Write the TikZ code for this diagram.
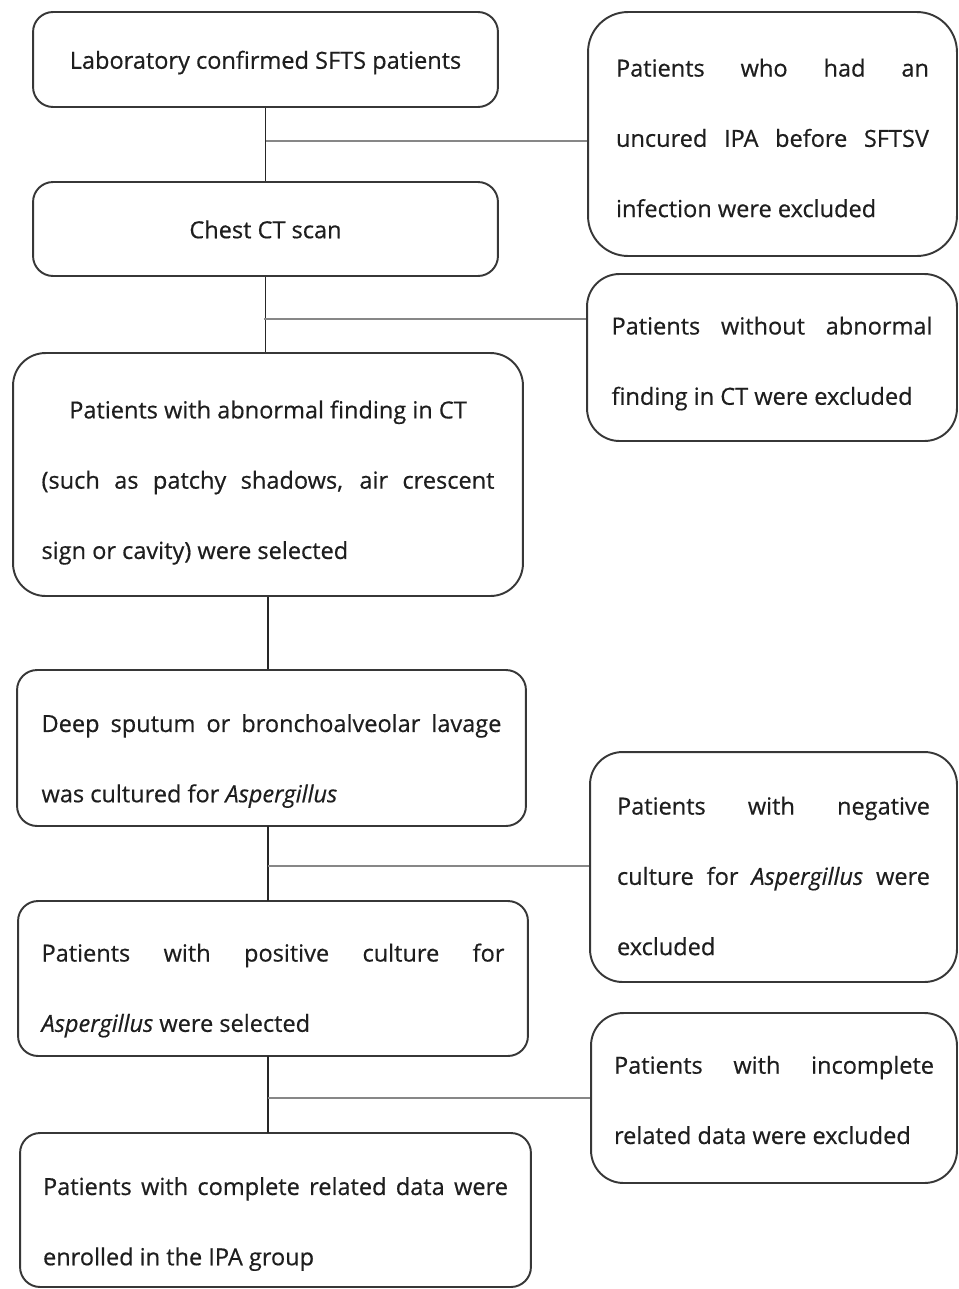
\documentclass[tikz,border=0pt]{standalone}
\usepackage{fontspec}
\setmainfont{Open Sans}[RawFeature={embolden=0.5}]
\usepackage{tikz}
\usetikzlibrary{positioning,calc}
\definecolor{BoxLine}{RGB}{55,55,55}
\definecolor{TextGray}{RGB}{30,30,30}
\definecolor{BranchGray}{RGB}{135,135,135}
\tikzset{
  flowbox/.style={draw=BoxLine, line width=1.1pt, text=TextGray, align=justify, inner sep=0pt,
    font=\fontsize{13.4}{40}\selectfont},
  stagebox/.style={flowbox, rounded corners=0.4cm},
  exclbox/.style={flowbox, rounded corners=0.65cm},
  textdrop/.style={execute at end node={\par\vspace{-#1}}},
  oneline/.style={text height=0.37cm, text depth=0pt},
  trunk/.style={line width=1.1pt, black!85},
  branch/.style={line width=0.9pt, BranchGray}
}

\begin{document}
\begin{tikzpicture}[x=0.02cm, y=-0.02cm]
  \useasboundingbox (0,0) rectangle (958,1289);
  \node[stagebox, oneline, minimum width=9.3cm, minimum height=1.9cm] (lab) at (265.5,59.5) {Laboratory confirmed SFTS patients};
  \node[stagebox, oneline, minimum width=9.3cm, minimum height=1.88cm] (ct) at (265.5,229) {Chest CT scan};
  \node[exclbox, minimum width=10.2cm, minimum height=4.86cm, text width=9.06cm, textdrop=0.32cm] (abn) at (268,474.5)
    {{\centering Patients with abnormal finding in CT\par}(such as patchy shadows, air crescent\linebreak sign or cavity) were selected};
  \node[stagebox, minimum width=10.18cm, minimum height=3.12cm, text width=9.2cm, textdrop=0.52cm] (cult) at (271.5,748)
    {Deep sputum or bronchoalveolar lavage\linebreak was cultured for \textit{Aspergillus}};
  \node[stagebox, minimum width=10.2cm, minimum height=3.1cm, text width=9.26cm, textdrop=0.48cm] (pos) at (273,978.5)
    {Patients with positive culture for\linebreak \textit{Aspergillus} were selected};
  \node[stagebox, minimum width=10.22cm, minimum height=3.08cm, text width=9.3cm, textdrop=0.56cm] (enr) at (275.5,1210)
    {Patients with complete related data were\linebreak enrolled in the IPA group};

  \node[exclbox, rounded corners=0.8cm, minimum width=7.38cm, minimum height=4.88cm, text width=6.26cm, textdrop=0.16cm] (exA) at (772.5,134)
    {Patients who had an\linebreak uncured IPA before SFTSV\linebreak infection were excluded};
  \node[exclbox, minimum width=7.4cm, minimum height=3.34cm, text width=6.42cm, textdrop=0.24cm] (exB) at (772,357.5)
    {Patients without abnormal\linebreak finding in CT were excluded};
  \node[exclbox, minimum width=7.34cm, minimum height=4.6cm, text width=6.26cm, textdrop=0.36cm] (exC) at (773.5,867)
    {Patients with negative\linebreak culture for \textit{Aspergillus} were\linebreak excluded};
  \node[exclbox, minimum width=7.32cm, minimum height=3.4cm, text width=6.4cm, textdrop=0.08cm] (exD) at (774,1098)
    {Patients with incomplete\linebreak related data were excluded};

  \draw[trunk] (lab.south) -- (lab.south |- ct.north);
  \draw[trunk] (ct.south) -- (ct.south |- abn.north);
  \draw[trunk] (abn.south) -- (abn.south |- cult.north);
  \draw[trunk] (268,826) -- (268,901);
  \draw[trunk] (268,1056) -- (268,1133);

  \coordinate (j1) at (266,141);
  \coordinate (j2) at (264,319);
  \coordinate (j3) at (268,866);
  \coordinate (j4) at (268,1098);
  \draw[branch] (j1) -- (j1 -| exA.west);
  \draw[branch] (j2) -- (j2 -| exB.west);
  \draw[branch] (j3) -- (j3 -| exC.west);
  \draw[branch] (j4) -- (j4 -| exD.west);
\end{tikzpicture}
\end{document}
